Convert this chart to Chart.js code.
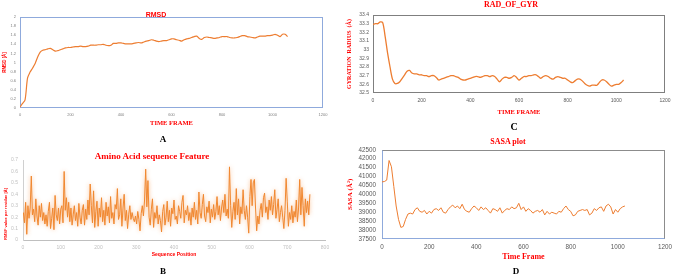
<!DOCTYPE html>
<html><head><meta charset="utf-8">
<script src="https://cdn.jsdelivr.net/npm/chart.js@4.4.1/dist/chart.umd.min.js"></script>
<style>
html,body{margin:0;padding:0;background:#fff;}
body{position:relative;width:676px;height:277px;overflow:hidden;}
.cw{position:absolute;}
.cw canvas{display:block;}
.t{position:absolute;transform:translate(-50%,-50%);white-space:nowrap;line-height:1;}
.red{color:#FF0000;font-weight:bold;}
.serif{font-family:"Liberation Serif","Times New Roman",serif;}
.sans{font-family:"Liberation Sans",Arial,sans-serif;}
.lbl{font-family:"Liberation Serif","Times New Roman",serif;font-weight:bold;color:#000;}
</style></head><body>
<div class="cw" style="left:0;top:0"><canvas id="cA" width="340" height="132"></canvas></div>
<div class="cw" style="left:340px;top:0"><canvas id="cC" width="336" height="132"></canvas></div>
<div class="cw" style="left:0;top:140px"><canvas id="cB" width="340" height="137"></canvas></div>
<div class="cw" style="left:340px;top:140px"><canvas id="cD" width="336" height="137"></canvas></div>
<div class="t red sans" style="left:156px;top:14px;font-size:7px">RMSD</div>
<div class="t red serif" style="left:511px;top:5px;font-size:8px">RAD_OF_GYR</div>
<div class="t red serif" style="left:152px;top:156px;font-size:9px">Amino Acid sequence Feature</div>
<div class="t red serif" style="left:508px;top:142px;font-size:8px">SASA plot</div>
<div class="t lbl" style="left:163px;top:139px;font-size:9px">A</div>
<div class="t lbl" style="left:163px;top:271px;font-size:9px">B</div>
<div class="t lbl" style="left:514px;top:127px;font-size:10px">C</div>
<div class="t lbl" style="left:516px;top:271px;font-size:9px">D</div>
<script>
// ---------------- DATA ----------------
// Panel A: RMSD, sampled every 10 frames from frame 0
const rmsdFrameStart = 0, rmsdFrameStep = 10;
const rmsdValues = [
 0.02,0.10,0.18,0.66,0.79,0.88,0.98,1.12,1.23,1.27,
 1.28,1.30,1.31,1.28,1.25,1.26,1.28,1.30,1.32,1.33,
 1.33,1.34,1.35,1.35,1.36,1.35,1.35,1.36,1.38,1.38,
 1.38,1.39,1.39,1.40,1.38,1.37,1.38,1.42,1.42,1.43,
 1.43,1.42,1.41,1.41,1.41,1.42,1.43,1.44,1.43,1.45,
 1.47,1.48,1.50,1.49,1.47,1.46,1.47,1.48,1.48,1.50,
 1.52,1.52,1.50,1.49,1.47,1.50,1.52,1.53,1.55,1.57,
 1.58,1.53,1.51,1.55,1.56,1.55,1.54,1.53,1.54,1.55,
 1.57,1.57,1.57,1.55,1.54,1.54,1.55,1.57,1.59,1.59,
 1.57,1.56,1.55,1.54,1.56,1.58,1.58,1.58,1.59,1.59,
 1.60,1.62,1.60,1.57,1.62,1.62,1.57];

// Panel C: radius of gyration, every 10 frames
const gyrFrameStart = 0, gyrFrameStep = 10;
const gyrValues = [
 33.29,33.30,33.30,33.32,33.31,33.15,32.96,32.80,32.66,32.61,
 32.61,32.63,32.67,32.71,32.75,32.76,32.73,32.72,32.72,32.71,
 32.71,32.70,32.70,32.69,32.70,32.70,32.68,32.65,32.66,32.67,
 32.68,32.69,32.70,32.70,32.69,32.68,32.66,32.65,32.65,32.66,
 32.67,32.68,32.69,32.69,32.68,32.69,32.70,32.70,32.69,32.70,
 32.69,32.66,32.63,32.66,32.68,32.68,32.67,32.68,32.70,32.68,
 32.65,32.67,32.69,32.69,32.70,32.70,32.71,32.71,32.69,32.67,
 32.69,32.70,32.69,32.67,32.66,32.68,32.69,32.68,32.67,32.67,
 32.65,32.63,32.62,32.64,32.66,32.66,32.64,32.61,32.59,32.58,
 32.59,32.59,32.59,32.62,32.65,32.65,32.63,32.60,32.58,32.59,
 32.60,32.60,32.62,32.65];

// Panel B: RMSF per residue, every 3rd residue starting at residue 1
const rmsfResStart = 1, rmsfResStep = 3;
const rmsfValues = [
 0.24,0.15,0.33,0.05,0.30,0.19,0.28,0.56,0.22,0.27,
 0.16,0.36,0.21,0.13,0.30,0.20,0.32,0.17,0.24,0.14,
 0.22,0.12,0.25,0.33,0.10,0.19,0.28,0.09,0.39,0.22,
 0.17,0.28,0.14,0.27,0.30,0.15,0.60,0.26,0.37,0.20,
 0.33,0.16,0.28,0.13,0.22,0.30,0.17,0.24,0.12,0.32,
 0.20,0.14,0.26,0.31,0.13,0.27,0.18,0.35,0.22,0.49,
 0.30,0.15,0.43,0.11,0.25,0.34,0.12,0.28,0.20,0.37,
 0.16,0.26,0.13,0.33,0.21,0.29,0.15,0.38,0.19,0.24,
 0.14,0.31,0.27,0.45,0.18,0.22,0.36,0.12,0.28,0.40,
 0.17,0.26,0.10,0.22,0.30,0.18,0.24,0.19,0.16,0.21,
 0.14,0.25,0.18,0.08,0.23,0.30,0.21,0.35,0.62,0.29,
 0.52,0.20,0.13,0.27,0.36,0.11,0.24,0.19,0.30,0.14,
 0.22,0.17,0.07,0.25,0.31,0.13,0.20,0.34,0.16,0.26,
 0.12,0.28,0.23,0.35,0.18,0.21,0.14,0.30,0.25,0.19,
 0.33,0.39,0.15,0.26,0.22,0.30,0.17,0.24,0.13,0.28,
 0.20,0.33,0.18,0.26,0.14,0.42,0.24,0.19,0.31,0.40,
 0.21,0.16,0.29,0.24,0.34,0.15,0.27,0.20,0.31,0.18,
 0.25,0.38,0.22,0.30,0.17,0.28,0.35,0.24,0.40,0.21,
 0.27,0.19,0.64,0.30,0.11,0.25,0.33,0.18,0.45,0.22,
 0.36,0.14,0.29,0.23,0.44,0.26,0.18,0.30,0.20,0.06,
 0.38,0.53,0.30,0.50,0.53,0.28,0.08,0.21,0.14,0.26,
 0.32,0.20,0.37,0.41,0.24,0.29,0.18,0.35,0.26,0.38,
 0.22,0.31,0.44,0.19,0.27,0.36,0.16,0.24,0.30,0.20,
 0.10,0.26,0.54,0.34,0.12,0.24,0.18,0.30,0.15,0.25,
 0.20,0.35,0.16,0.28,0.53,0.22,0.46,0.30,0.12,0.36,
 0.24,0.34,0.22,0.40];

// Panel D: SASA, every 10 frames
const sasaFrameStart = 0, sasaFrameStep = 10;
const sasaValues = [
 40700,40720,40800,41900,41550,40450,39350,38600,38150,38200,
 38600,38900,38950,38900,39150,39250,39050,39000,39100,38900,
 39050,38950,39150,39200,39100,39250,39000,38950,39150,39300,
 39400,39250,39350,39200,39450,39150,39050,39000,39200,39350,
 39250,39100,39300,39150,39250,39100,38950,39200,39150,39050,
 39250,38950,39100,39200,39150,39300,39200,39250,39500,39150,
 39300,39050,39200,39100,38950,39050,39100,39000,39150,38850,
 39050,38900,39000,38950,38900,39050,39000,39200,39350,39150,
 39050,38800,38850,39050,39100,39150,39100,39150,38850,38950,
 39200,39100,39250,39300,39050,39350,39450,39300,38900,39150,
 39000,39200,39300,39350];

// ---------------- HELPERS ----------------
function toPoints(start, step, values) {
  return values.map((v, i) => ({ x: start + step * i, y: v }));
}
const plainNum = v => String(parseFloat(Number(v).toFixed(4)));
const SANS = '"Liberation Sans", Arial, sans-serif';
const SERIF = '"Liberation Serif", "Times New Roman", serif';
const RED = '#FF0000';

const boxPlugin = {
  id: 'plotBox',
  beforeDatasetsDraw(chart, args, o) {
    if (!o || !o.color) return;
    const ctx = chart.ctx, a = chart.chartArea;
    const l = Math.round(a.left) + 0.5, t = Math.round(a.top) + 0.5;
    const r = Math.round(a.right) - 0.5, b = Math.round(a.bottom) - 0.5;
    ctx.save();
    ctx.lineWidth = 1;
    ctx.strokeStyle = o.color;
    ctx.strokeRect(l, t, r - l, b - t);
    if (o.axisColor) {
      ctx.strokeStyle = o.axisColor;
      ctx.beginPath();
      ctx.moveTo(l, t); ctx.lineTo(l, b); ctx.lineTo(r, b);
      ctx.stroke();
    }
    ctx.restore();
  }
};
const glowPlugin = {
  id: 'glow',
  beforeDatasetDraw(chart, args, o) {
    if (!o || !o.color) return;
    chart.ctx.save();
    chart.ctx.shadowColor = o.color;
    chart.ctx.shadowBlur = o.blur;
  },
  afterDatasetDraw(chart, args, o) {
    if (!o || !o.color) return;
    chart.ctx.restore();
  }
};

function makeChart(id, c) {
  return new Chart(document.getElementById(id), {
    type: 'line',
    data: { datasets: [{
      data: c.points, borderColor: c.color, borderWidth: c.lw,
      pointRadius: 0, tension: c.tension, fill: false
    }]},
    options: {
      responsive: false, animation: false, devicePixelRatio: 1,
      layout: { padding: c.pad },
      plugins: {
        legend: { display: false }, tooltip: { enabled: false },
        plotBox: c.box || {}, glow: c.glow || {}
      },
      scales: {
        x: {
          type: 'linear', min: c.x.min, max: c.x.max,
          ticks: { stepSize: c.x.step, autoSkip: false, maxRotation: 0, callback: plainNum,
                   color: c.tickColor, font: c.tickFont, padding: c.x.pad },
          grid: { display: false, drawTicks: false },
          border: c.x.border || { display: false },
          title: { display: true, text: c.x.title, color: RED, font: c.x.titleFont,
                   padding: { top: 0, bottom: c.x.titlePad } },
          afterFit: s => { s.height = c.x.size; }
        },
        y: {
          type: 'linear', min: c.y.min, max: c.y.max,
          ticks: { stepSize: c.y.step, autoSkip: false, callback: plainNum,
                   color: c.tickColor, font: c.tickFont, padding: c.y.pad },
          grid: { display: false, drawTicks: false },
          border: c.y.border || { display: false },
          title: { display: true, text: c.y.title, color: RED, font: c.y.titleFont,
                   align: c.y.align || 'center',
                   padding: { top: c.y.titlePad, bottom: 0 } },
          afterFit: s => { s.width = c.y.size; }
        }
      }
    },
    plugins: [boxPlugin, glowPlugin]
  });
}

// ---------------- PANEL A ----------------
makeChart('cA', {
  points: toPoints(rmsdFrameStart, rmsdFrameStep, rmsdValues),
  color: '#ED7D31', lw: 1.2, tension: 0.3,
  pad: { left: 0, right: 17, top: 17, bottom: 4 },
  box: { color: '#8FAADC' },
  tickColor: '#7F7F7F', tickFont: { family: SANS, size: 4 },
  x: { min: 0, max: 1200, step: 200, pad: 4, size: 20, title: 'TIME FRAME',
       titleFont: { family: SERIF, size: 6.5, weight: 'bold' }, titlePad: 1 },
  y: { min: 0, max: 2, step: 0.2, pad: 4, size: 20, title: 'RMSD [Å]',
       titleFont: { family: SANS, size: 4.5, weight: 'bold' }, titlePad: 2 }
});

// ---------------- PANEL C ----------------
makeChart('cC', {
  points: toPoints(gyrFrameStart, gyrFrameStep, gyrValues),
  color: '#ED7D31', lw: 1.3, tension: 0.3,
  pad: { left: 0, right: 11, top: 15, bottom: 14 },
  box: { color: '#7F7F7F' },
  tickColor: '#595959', tickFont: { family: SANS, size: 5 },
  x: { min: 0, max: 1200, step: 200, pad: 5, size: 25, title: 'TIME FRAME',
       titleFont: { family: SERIF, size: 6.5, weight: 'bold' }, titlePad: 2 },
  y: { min: 32.5, max: 33.4, step: 0.1, pad: 4, size: 33, title: 'GYRATION  RADIUS  (Å)',
       titleFont: { family: SERIF, size: 6, weight: 'bold' }, titlePad: 6 }
});

// ---------------- PANEL B ----------------
makeChart('cB', {
  points: toPoints(rmsfResStart, rmsfResStep, rmsfValues),
  color: '#F0872F', lw: 1, tension: 0,
  pad: { left: 0, right: 15, top: 20, bottom: 18 },
  glow: { color: 'rgba(248,170,110,0.85)', blur: 4 },
  tickColor: '#BFBFBF', tickFont: { family: SANS, size: 5 },
  x: { min: 0, max: 800, step: 100, pad: 5, size: 19, title: 'Sequence Position',
       titleFont: { family: SANS, size: 5, weight: 'bold' }, titlePad: 1,
       border: { display: true, color: '#BFBFBF', width: 1 } },
  y: { min: 0, max: 0.7, step: 0.1, pad: 5, size: 23, title: 'RMSF value per residue [Å]',
       titleFont: { family: SANS, size: 4, weight: 'bold' }, titlePad: 3, align: 'start',
       border: { display: true, color: '#D0D0D0', width: 1 } }
});

// ---------------- PANEL D ----------------
makeChart('cD', {
  points: toPoints(sasaFrameStart, sasaFrameStep, sasaValues),
  color: '#ED7D31', lw: 1, tension: 0,
  pad: { left: 0, right: 11, top: 9, bottom: 14 },
  box: { color: '#8C8C8C', axisColor: '#8FAADC' },
  tickColor: '#595959', tickFont: { family: SANS, size: 6.3 },
  x: { min: 0, max: 1200, step: 200, pad: 4, size: 24, title: 'Time Frame',
       titleFont: { family: SERIF, size: 8, weight: 'bold' }, titlePad: 1 },
  y: { min: 37500, max: 42500, step: 500, pad: 6, size: 42, title: 'SASA (Å²)',
       titleFont: { family: SERIF, size: 7, weight: 'bold' }, titlePad: 6 }
});
</script>
</body></html>
